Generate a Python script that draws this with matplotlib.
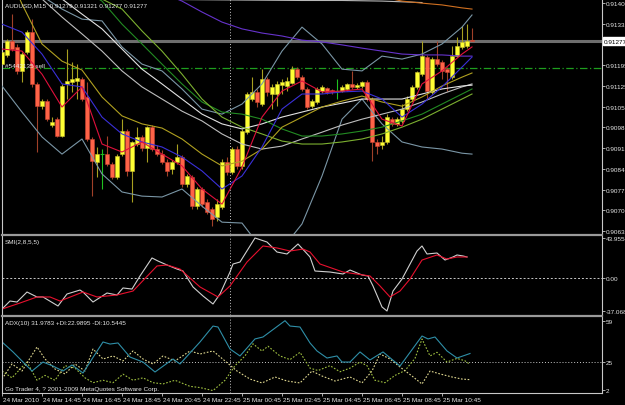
import numpy as np
import matplotlib
matplotlib.use("Agg")
import matplotlib.pyplot as plt
import matplotlib.transforms as mtrans
from matplotlib.lines import Line2D

plt.rcParams['font.family'] = ['Liberation Sans', 'DejaVu Sans']
FS = 4.6
TXT = '#E6E6E6'
GRID = '#C8C8C8'

# AUDUSD M15, 24 Mar 2010 12:45 -> 25 Mar 2010
opens = [0.91199, 0.91230, 0.91277, 0.91257, 0.91176, 0.91240, 0.91307, 0.91132, 0.91057, 0.91074,
         0.90993, 0.91013, 0.90956, 0.91132, 0.91138, 0.91142, 0.91149, 0.91088, 0.90946, 0.90868,
         0.90895, 0.90895, 0.90861, 0.90817, 0.90895, 0.90973, 0.90838, 0.90929, 0.90953, 0.90915,
         0.90986, 0.90912, 0.90895, 0.90868, 0.90844, 0.90868, 0.90885, 0.90794, 0.90817, 0.90719,
         0.90777, 0.90733, 0.90709, 0.90682, 0.90716, 0.90868, 0.90834, 0.90912, 0.90855, 0.90969,
         0.91081, 0.91105, 0.91064, 0.91149, 0.91098, 0.91098, 0.91128, 0.91125, 0.91135, 0.91182,
         0.91155, 0.91115, 0.91057, 0.91071, 0.91108, 0.91118, 0.91111, 0.91108, 0.91108, 0.91115,
         0.91132, 0.91122, 0.91125, 0.91138, 0.91081, 0.90936, 0.90926, 0.90936, 0.91013, 0.90997,
         0.91007, 0.91047, 0.91081, 0.91122, 0.91165, 0.91223, 0.91105, 0.91216, 0.91206, 0.91182,
         0.91155, 0.91226, 0.91257, 0.91260, 0.91279]
highs = [0.91250, 0.91284, 0.91368, 0.91267, 0.91240, 0.91314, 0.91351, 0.91138, 0.91081, 0.91081,
         0.91020, 0.91020, 0.91132, 0.91250, 0.91206, 0.91199, 0.91155, 0.91138, 0.90953, 0.90919,
         0.90912, 0.90956, 0.90868, 0.90895, 0.91013, 0.90980, 0.90939, 0.90986, 0.90959, 0.90990,
         0.90993, 0.90926, 0.90909, 0.90878, 0.90875, 0.90929, 0.90892, 0.90828, 0.90824, 0.90784,
         0.90784, 0.90743, 0.90716, 0.90743, 0.90878, 0.90885, 0.90919, 0.90922, 0.90980, 0.91105,
         0.91155, 0.91115, 0.91182, 0.91155, 0.91132, 0.91142, 0.91149, 0.91155, 0.91193, 0.91189,
         0.91162, 0.91122, 0.91081, 0.91122, 0.91128, 0.91122, 0.91115, 0.91149, 0.91128, 0.91135,
         0.91176, 0.91135, 0.91142, 0.91145, 0.91088, 0.90946, 0.90956, 0.91030, 0.91020, 0.91020,
         0.91064, 0.91091, 0.91128, 0.91176, 0.91277, 0.91230, 0.91223, 0.91277, 0.91213, 0.91189,
         0.91260, 0.91291, 0.91328, 0.91334, 0.91321]
lows = [0.91189, 0.91223, 0.91243, 0.91165, 0.91138, 0.91233, 0.91122, 0.90902, 0.91047, 0.91007,
        0.90986, 0.90953, 0.90953, 0.91081, 0.91105, 0.91081, 0.91074, 0.90939, 0.90753, 0.90817,
        0.90777, 0.90855, 0.90811, 0.90811, 0.90888, 0.90821, 0.90733, 0.90922, 0.90905, 0.90868,
        0.90905, 0.90888, 0.90861, 0.90821, 0.90828, 0.90861, 0.90784, 0.90784, 0.90709, 0.90709,
        0.90716, 0.90692, 0.90652, 0.90669, 0.90709, 0.90824, 0.90828, 0.90844, 0.90844, 0.90963,
        0.91074, 0.91054, 0.91057, 0.91091, 0.91047, 0.91057, 0.91098, 0.91108, 0.91132, 0.91149,
        0.91108, 0.91047, 0.91051, 0.91064, 0.91101, 0.91098, 0.91098, 0.91081, 0.91105, 0.91108,
        0.91115, 0.91115, 0.91118, 0.91074, 0.90871, 0.90895, 0.90912, 0.90929, 0.90990, 0.90990,
        0.91000, 0.91040, 0.91074, 0.91115, 0.91159, 0.91081, 0.91098, 0.91193, 0.91149, 0.91108,
        0.91149, 0.91223, 0.91250, 0.91253, 0.91277]
closes = [0.91240, 0.91277, 0.91250, 0.91176, 0.91233, 0.91307, 0.91132, 0.91057, 0.91074, 0.91013,
          0.91003, 0.90956, 0.91125, 0.91142, 0.91149, 0.91152, 0.91081, 0.90946, 0.90871, 0.90895,
          0.90895, 0.90861, 0.90817, 0.90888, 0.90973, 0.90838, 0.90936, 0.90953, 0.90915, 0.90986,
          0.90912, 0.90895, 0.90868, 0.90838, 0.90868, 0.90885, 0.90794, 0.90821, 0.90719, 0.90777,
          0.90726, 0.90699, 0.90675, 0.90726, 0.90868, 0.90834, 0.90912, 0.90855, 0.90973, 0.91098,
          0.91105, 0.91071, 0.91149, 0.91105, 0.91122, 0.91132, 0.91138, 0.91142, 0.91182, 0.91155,
          0.91115, 0.91054, 0.91074, 0.91115, 0.91122, 0.91105, 0.91105, 0.91108, 0.91122, 0.91132,
          0.91122, 0.91128, 0.91138, 0.91081, 0.90936, 0.90922, 0.90936, 0.91020, 0.90997, 0.91013,
          0.91047, 0.91081, 0.91122, 0.91172, 0.91226, 0.91108, 0.91216, 0.91199, 0.91176, 0.91172,
          0.91226, 0.91260, 0.91274, 0.91277, 0.91277]

# indicator lines on the price chart, sampled every 4 bars
ma_bars = [0, 4, 8, 12, 16, 20, 24, 28, 32, 36, 40, 44, 48, 52, 56, 60, 64, 68, 72, 76, 80, 84, 88, 92, 94]
ma_red = [0.91250, 0.91243, 0.91165, 0.91054, 0.91122, 0.90929, 0.90902, 0.90936, 0.90895, 0.90855, 0.90777, 0.90726, 0.90851,
          0.91020, 0.91108, 0.91142, 0.91105, 0.91108, 0.91115, 0.91013, 0.90990, 0.91132, 0.91176, 0.91233, 0.91257]
ma_blue = [0.91334, 0.91307, 0.91233, 0.91132, 0.91122, 0.91020, 0.90963, 0.90936, 0.90919, 0.90885, 0.90838, 0.90777, 0.90821,
           0.90919, 0.91047, 0.91098, 0.91098, 0.91105, 0.91108, 0.91081, 0.91020, 0.91064, 0.91122, 0.91189, 0.91223]
ma_gold = [0.91554, 0.91402, 0.91267, 0.91209, 0.91179, 0.91088, 0.91024, 0.90997, 0.90983, 0.90946, 0.90895, 0.90855, 0.90871,
           0.90912, 0.90986, 0.91020, 0.91054, 0.91074, 0.91091, 0.91071, 0.91057, 0.91088, 0.91125, 0.91155, 0.91169]
ma_green = [0.91689, 0.91622, 0.91571, 0.91504, 0.91453, 0.91412, 0.91334, 0.91267, 0.91199, 0.91132, 0.91071, 0.91037, 0.91030,
            0.91013, 0.90980, 0.90956, 0.90956, 0.90963, 0.90973, 0.90986, 0.91007, 0.91030, 0.91064, 0.91098, 0.91115]
ma_lime = [0.91723, 0.91673, 0.91605, 0.91537, 0.91470, 0.91419, 0.91385, 0.91311, 0.91243, 0.91165, 0.91081, 0.91020, 0.90986,
           0.90963, 0.90939, 0.90929, 0.90929, 0.90936, 0.90946, 0.90963, 0.90986, 0.91013, 0.91047, 0.91081, 0.91098]
env_a = [0.91588, 0.91504, 0.91419, 0.91358, 0.91301, 0.91243, 0.91176, 0.91122, 0.91081, 0.91040, 0.91007, 0.90963, 0.90929,
         0.90912, 0.90922, 0.90946, 0.90969, 0.90993, 0.91013, 0.91030, 0.91047, 0.91071, 0.91098, 0.91122, 0.91132]
env_b = [0.91622, 0.91554, 0.91487, 0.91419, 0.91368, 0.91318, 0.91250, 0.91182, 0.91132, 0.91081, 0.91030, 0.90997, 0.90980,
         0.90997, 0.91020, 0.91037, 0.91054, 0.91067, 0.91081, 0.91081, 0.91081, 0.91098, 0.91115, 0.91125, 0.91128]
bb_upper = [0.91487, 0.91460, 0.91429, 0.91385, 0.91351, 0.91345, 0.91257, 0.91199, 0.91176, 0.91115, 0.91047, 0.91030, 0.91064,
            0.91132, 0.91243, 0.91324, 0.91267, 0.91182, 0.91176, 0.91226, 0.91216, 0.91233, 0.91267, 0.91324, 0.91365]
bb_lower = [0.91125, 0.91037, 0.90953, 0.90895, 0.90946, 0.90828, 0.90767, 0.90753, 0.90750, 0.90777, 0.90719, 0.90665, 0.90662,
            0.90574, 0.90574, 0.90659, 0.90821, 0.91013, 0.91081, 0.90997, 0.90936, 0.90919, 0.90912, 0.90898, 0.90895]
purple_bars = ma_bars[7:]
ma_purple = [0.91470, 0.91439, 0.91412, 0.91375, 0.91341, 0.91318, 0.91304, 0.91294, 0.91280, 0.91274, 0.91264, 0.91253,
             0.91243, 0.91233, 0.91230, 0.91230, 0.91226, 0.91226]
orange_bars = [76, 80, 84, 88, 92, 94]
ma_orange = [0.91426, 0.91412, 0.91405, 0.91399, 0.91389, 0.91385]
grey_bars = [36, 44, 52, 60, 68, 76, 84]
ma_grey = [0.91417, 0.91416, 0.91415, 0.91414, 0.91414, 0.91412, 0.91407]

last_price = 0.91277
order_price = 0.91185
price_ticks = [0.91405, 0.91335, 0.91195, 0.91125, 0.91055, 0.90985, 0.90915, 0.90845, 0.90775, 0.90705, 0.90635]

# SMI(2,8,5,5)
smi_bars = [0, 1.6, 3, 5, 7, 8.2, 11.2, 13, 15.6, 16.2, 18.2, 21, 23, 24.2, 26, 27.6, 30, 31.2, 33, 35,
            36.2, 38.2, 40.2, 42.2, 43.6, 45.6, 46.2, 47.6, 50.6, 53, 55, 57, 59.2, 61.6, 62.6, 65.6, 68.2, 69.6, 72, 73.2,
            74.2, 76, 77, 78.2, 80, 83, 84, 85, 87, 88.6, 90.2, 91, 92.2, 93]
smi_vals = [-34.9, -26.0, -27.1, -16.0, -21.5, -21.5, -31.5, -18.2, -13.8, -16.0, -27.1, -17.1, -19.3, -11.5, -12.7, 1.8,
            21.8, 18.4, 14.0, 9.5, 7.3, -10.4, -20.4, -29.3, -18.2, 6.2, 15.1, 17.3, 43.96, 39.5, 28.4, 26.2, 37.3, 22.9,
            7.3, 6.2, 4.0, 8.4, 2.9, 1.8, -9.3, -32.6, -37.07, -14.9, -1.6, 29.5, 35.1, 26.2, 27.3, 19.5, 22.9, 25.1, 24.0, 22.9]
sig_bars = [0, 3.6, 7, 9.6, 11.6, 16.2, 19, 23, 26.2, 31, 33, 35.6, 39.6, 43.2, 45.6, 49, 52.2, 55, 57.6, 60.2,
            61.6, 63.6, 68.2, 73.6, 75.6, 77.6, 79.6, 81.6, 84, 87, 89, 91, 93]
sig_vals = [-34.9, -28.2, -21.5, -21.5, -26.0, -16.0, -21.5, -19.3, -14.9, 12.9, 14.0, 9.5, -10.4, -21.5, -9.3, 17.3,
            35.1, 32.9, 29.5, 31.7, 28.4, 15.1, 6.2, 1.8, -9.3, -21.5, -14.9, -1.6, 19.5, 25.1, 20.6, 22.9, 22.9]

# ADX(10)
adx_bars = [0, 2.2, 6, 8.2, 10.2, 12.2, 14, 16.2, 20.2, 21.6, 23.2, 25.6, 28.2, 30.6, 34.2, 35.6, 39.6, 42.2, 43.2, 45.6,
            47.6, 50.6, 52.2, 56.6, 57.6, 59.6, 61.6, 63, 65, 67, 68, 69.6, 71.6, 73.6, 76.2, 79.6, 84, 85.2, 86.6, 89,
            91, 93.6]
adx_vals = [41.5, 33.3, 17.6, 25.0, 21.7, 17.6, 22.6, 16.0, 41.5, 39.8, 40.7, 29.1, 25.0, 16.8, 27.5, 23.4, 41.5, 54.6,
            53.8, 35.7, 30.0, 44.0, 45.6, 59.0, 54.6, 53.8, 40.7, 34.1, 28.3, 30.0, 25.0, 25.0, 33.3, 26.7, 33.3, 21.7,
            46.4, 44.0, 45.6, 34.1, 28.3, 32.0]
pdi_bars = [0, 2, 4, 5, 7, 8.6, 10.6, 12.6, 14.6, 16.6, 18.2, 20.2, 22.2, 24.2, 26.2, 28.2, 30.2, 32.2, 34.6, 37.6,
            39.6, 42.2, 44.6, 46.6, 48.6, 50.2, 52, 53.2, 55.6, 57.6, 59.6, 61.6, 63.2, 65.6, 67.6, 69.6, 71.6, 73, 74.6,
            76.6, 78.6, 80.6, 82.6, 84, 85.6, 87, 89, 91, 92.6, 93.6]
pdi_vals = [17.6, 12, 20.9, 25, 10, 14, 10, 22, 20, 12, 8, 10, 8, 15, 10, 12, 8, 7, 10, 5,
            4, 1.5, 10, 22, 30, 40, 34, 38, 30, 27, 33, 20, 18, 22, 17, 20, 25, 22, 10,
            8, 14, 18, 28, 44, 30, 33, 25, 28, 26, 23]
mdi_bars = [0, 2, 4, 7, 8.6, 10.6, 12.6, 14.6, 16.6, 18.2, 20.2, 22.2, 24.2, 26.2, 28.2, 30.2, 32.2, 34.6, 37.6, 39.6,
            42.2, 44.6, 47, 49.6, 52, 54.6, 57, 59.6, 62, 64, 66.6, 69.6, 72, 74, 75.6, 77.6, 79.6, 82, 84, 85.6,
            87.6, 90, 92, 93.6]
mdi_vals = [11.0, 23.4, 17.6, 37.4, 27.5, 19.3, 15.2, 23.4, 17.6, 35.7, 27.5, 30.0, 25.9, 34.1, 27.5, 23.4, 30.0, 25.9,
            34.1, 31.6, 34.1, 25.9, 17.6, 11.0, 7.8, 12.7, 9.4, 7.8, 17.6, 13.5, 9.4, 12.7, 7.8, 17.6, 31.6, 27.5, 20.9,
            13.5, 6.9, 17.6, 15.2, 12.7, 11.0, 10.5]

tick_bars = [0, 8, 16, 24, 32, 40, 48, 56, 64, 72, 80, 88]
tick_labels = ['24 Mar 2010', '24 Mar 14:45', '24 Mar 16:45', '24 Mar 18:45', '24 Mar 20:45', '24 Mar 22:45',
               '25 Mar 00:45', '25 Mar 02:45', '25 Mar 04:45', '25 Mar 06:45', '25 Mar 08:45', '25 Mar 10:45']
day_sep = 45.6

fig = plt.figure(figsize=(6.25, 4.06), dpi=100, facecolor='black')
W, H = 625.0, 406.0


def px_axes(x0, y0, x1, y1):
    return fig.add_axes([x0 / W, 1 - y1 / H, (x1 - x0) / W, (y1 - y0) / H])


ax = px_axes(2, 0, 602, 235)
ax_smi = px_axes(2, 237, 602, 316)
ax_adx = px_axes(2, 318, 602, 394)

for a in (ax, ax_smi, ax_adx):
    a.set_facecolor('black')
    a.set_xlim(0, 120)
    a.set_xticks([])
    a.spines['top'].set_visible(False)
    a.spines['bottom'].set_visible(False)
    for s in ('left', 'right'):
        a.spines[s].set_color(GRID)
        a.spines[s].set_linewidth(0.8)
    a.yaxis.tick_right()
    a.tick_params(axis='y', colors=GRID, labelcolor=TXT, labelsize=FS, length=2, width=0.6, pad=1)
    a.axvline(day_sep, color=GRID, lw=0.7, ls=(0, (1, 2)), zorder=1)

# ---- price chart ----
ax.set_ylim(0.90625, 0.91419)
ax.set_yticks(price_ticks)
ax.set_yticklabels(['%.5f' % v for v in price_ticks])
ax.axhline(last_price, color='#6E6E6E', lw=2.2, zorder=1)
ax.axhline(order_price, color='#1E9E1E', lw=0.9, ls=(0, (6, 2, 1, 2)), zorder=1)

o = np.array(opens)
h = np.array(highs)
l = np.array(lows)
c = np.array(closes)
x = np.arange(len(o))
up = c > o
dn = c < o
dj = c == o
ax.vlines(x[up], l[up], h[up], color='#A8A020', lw=0.8, zorder=2)
ax.vlines(x[dn], l[dn], h[dn], color='#A04028', lw=0.8, zorder=2)
ax.vlines(x[dj], l[dj], h[dj], color='#20C020', lw=0.8, zorder=2)
ax.hlines(c[dj], x[dj] - 0.35, x[dj] + 0.35, color='#20C020', lw=0.8, zorder=2)
ax.bar(x[up], np.maximum(c[up] - o[up], 0.00003), bottom=o[up], width=0.7,
       color='#FFFF33', edgecolor='#C8C030', lw=0.4, zorder=3)
ax.bar(x[dn], np.minimum(c[dn] - o[dn], -0.00003), bottom=o[dn], width=0.7,
       color='#FF6347', edgecolor='#C84030', lw=0.4, zorder=3)

lw = 0.8
ax.plot(ma_bars, bb_upper, color='#7A96A6', lw=lw, zorder=4)
ax.plot(ma_bars, bb_lower, color='#7A96A6', lw=lw, zorder=4)
ax.plot(ma_bars, env_a, color='#BEBEBE', lw=lw, zorder=4)
ax.plot(ma_bars, env_b, color='#E2E2E2', lw=lw, zorder=4)
ax.plot(ma_bars, ma_green, color='#228B22', lw=lw, zorder=4)
ax.plot(ma_bars, ma_lime, color='#7CB030', lw=lw, zorder=4)
ax.plot(ma_bars, ma_gold, color='#B0A020', lw=lw, zorder=4)
ax.plot(purple_bars, ma_purple, color='#6633CC', lw=lw, zorder=4)
ax.plot(grey_bars, ma_grey, color='#B8B8B8', lw=lw, zorder=4)
ax.plot(orange_bars, ma_orange, color='#D07020', lw=lw, zorder=4)
ax.plot(ma_bars, ma_blue, color='#3A30D8', lw=lw, zorder=5)
ax.plot(ma_bars, ma_red, color='#E0103C', lw=lw, zorder=5)

blend = mtrans.blended_transform_factory(ax.transAxes, ax.transData)
ax.text(1.003, last_price, '0.91277', transform=blend, fontsize=FS, color='black', va='center', ha='left',
        bbox=dict(boxstyle='square,pad=0.2', fc='white', ec='white'), clip_on=False, zorder=6)

# ---- SMI ----
ax_smi.set_ylim(-41.508, 46.175)
ax_smi.set_yticks([43.9554, 0.0, -37.0685])
ax_smi.set_yticklabels(['43.9554', '0.00', '-37.0685'])
ax_smi.axhline(0, color=GRID, lw=0.7, ls=(0, (2, 2)))
ax_smi.plot(smi_bars, smi_vals, color='#D0D0D0', lw=lw)
ax_smi.plot(sig_bars, sig_vals, color='#E8102E', lw=lw)

# ---- ADX ----
ax_adx.set_ylim(-0.47, 62.04)
ax_adx.set_yticks([59, 25, 2])
ax_adx.set_yticklabels(['59', '25', '2'])
ax_adx.axhline(25, color=GRID, lw=0.7, ls=(0, (1, 2)))
ax_adx.plot(pdi_bars, pdi_vals, color='#A0C040', lw=0.8, ls=(0, (1.5, 1.5)))
ax_adx.plot(mdi_bars, mdi_vals, color='#E0D890', lw=0.8, ls=(0, (1.5, 1.5)))
ax_adx.plot(adx_bars, adx_vals, color='#2F8FA8', lw=lw)
ax_adx.spines['bottom'].set_visible(True)
ax_adx.spines['bottom'].set_color(GRID)
ax_adx.set_xticks(tick_bars)
ax_adx.set_xticklabels(tick_labels, ha='left')
ax_adx.tick_params(axis='x', colors=GRID, labelcolor=TXT, labelsize=FS, length=2, width=0.6, pad=1)
shift = mtrans.ScaledTranslation(1.0 / 100, 0, fig.dpi_scale_trans)
for lab in ax_adx.get_xticklabels():
    lab.set_transform(lab.get_transform() + shift)

# panel separators
for yy in (235.5, 317.0):
    fig.add_artist(Line2D([2 / W, 602 / W], [1 - yy / H] * 2, color='#9A9A9A', lw=1.6))

# labels
fig.text(5 / W, 1 - 6 / H, 'AUDUSD,M15  0.91279 0.91321 0.91277 0.91277', fontsize=FS, color=TXT, va='center')
fig.text(5 / W, 1 - 67 / H, '#5442135 sell', fontsize=FS, color=TXT, va='center')
fig.text(5 / W, 1 - 243 / H, 'SMI(2,8,5,5)', fontsize=FS, color=TXT, va='center')
fig.text(5 / W, 1 - 324 / H, 'ADX(10) 31.9783 +DI:22.9895 -DI:10.5445', fontsize=FS, color=TXT, va='center')
fig.text(5 / W, 1 - 390 / H, 'Go Trader 4, ? 2001-2009 MetaQuotes Software Corp.', fontsize=FS, color=TXT, va='center')

fig.savefig('out.png', dpi=100, facecolor='black')
